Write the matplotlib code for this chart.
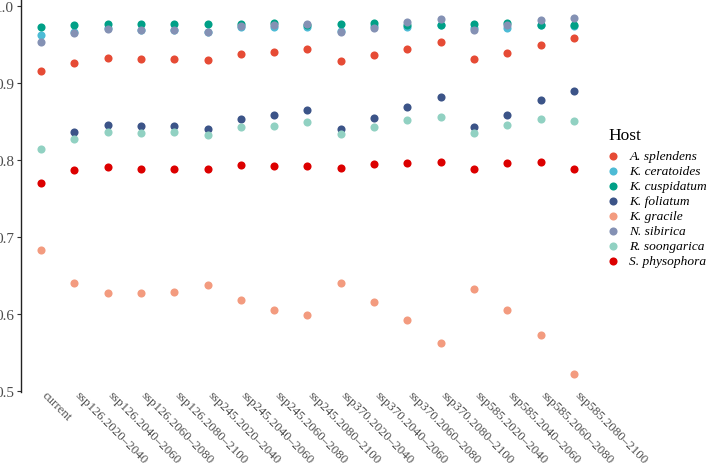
import matplotlib
matplotlib.use("Agg")
import matplotlib.pyplot as plt
import matplotlib.transforms as mtransforms
import numpy as np

categories = ["current",
              "ssp126.2020\u20132040", "ssp126.2040\u20132060", "ssp126.2060\u20132080", "ssp126.2080\u20132100",
              "ssp245.2020\u20132040", "ssp245.2040\u20132060", "ssp245.2060\u20132080", "ssp245.2080\u20132100",
              "ssp370.2020\u20132040", "ssp370.2040\u20132060", "ssp370.2060\u20132080", "ssp370.2080\u20132100",
              "ssp585.2020\u20132040", "ssp585.2040\u20132060", "ssp585.2060\u20132080", "ssp585.2080\u20132100"]

hosts = ["A. splendens", "K. ceratoides", "K. cuspidatum", "K. foliatum",
         "K. gracile", "N. sibirica", "R. soongarica", "S. physophora"]

a_splendens = [0.916, 0.926, 0.933, 0.931, 0.931, 0.930, 0.938, 0.940, 0.944, 0.929, 0.937, 0.945, 0.953, 0.932, 0.939, 0.950, 0.959]
k_ceratoides = [0.963, 0.966, 0.971, 0.969, 0.969, 0.967, 0.973, 0.973, 0.973, 0.968, 0.974, 0.973, 0.976, 0.972, 0.972, 0.976, 0.974]
k_cuspidatum = [0.973, 0.976, 0.977, 0.977, 0.977, 0.977, 0.977, 0.978, 0.976, 0.977, 0.978, 0.976, 0.975, 0.977, 0.978, 0.976, 0.976]
k_foliatum = [None, 0.837, 0.846, 0.844, 0.845, 0.840, 0.853, 0.859, 0.865, 0.840, 0.855, 0.869, 0.882, 0.843, 0.859, 0.878, 0.890]
k_gracile = [0.684, 0.640, 0.627, 0.627, 0.629, 0.638, 0.619, 0.606, 0.599, 0.640, 0.616, 0.592, 0.563, 0.633, 0.605, 0.573, 0.522]
n_sibirica = [0.953, 0.965, 0.970, 0.969, 0.969, 0.966, 0.974, 0.976, 0.977, 0.967, 0.972, 0.979, 0.983, 0.969, 0.976, 0.982, 0.985]
r_soongarica = [0.815, 0.828, 0.837, 0.835, 0.836, 0.833, 0.843, 0.845, 0.849, 0.834, 0.843, 0.852, 0.856, 0.835, 0.846, 0.854, 0.851]
s_physophora = [0.770, 0.787, 0.791, 0.788, 0.789, 0.789, 0.794, 0.793, 0.792, 0.790, 0.795, 0.796, 0.797, 0.789, 0.796, 0.798, 0.789]

series = [a_splendens, k_ceratoides, k_cuspidatum, k_foliatum,
          k_gracile, n_sibirica, r_soongarica, s_physophora]
colors = ["#E64B35", "#4DBBD5", "#00A087", "#3C5488",
          "#F39B7F", "#8491B4", "#91D1C2", "#DC0000"]

plt.rcParams['font.family'] = ['Liberation Serif', 'DejaVu Serif']

W, H = 708, 464
fig = plt.figure(figsize=(W / 100, H / 100), dpi=100)
ax_left, ax_right, ax_top, ax_bot = 21, 594, 1, 393
ax = fig.add_axes([ax_left / W, 1 - ax_bot / H, (ax_right - ax_left) / W, (ax_bot - ax_top) / H])

x = np.arange(len(categories))
for name, vals, c in zip(hosts, series, colors):
    xs = [xi for xi, v in zip(x, vals) if v is not None]
    ys = [v for v in vals if v is not None]
    ax.scatter(xs, ys, s=34, color=c, label=name, linewidths=0, zorder=3)

ax.set_xlim(-0.6, len(categories) - 1 + 0.6)
ax.set_ylim(0.499, 1.008)
ax.set_yticks([0.5, 0.6, 0.7, 0.8, 0.9, 1.0])
ax.set_yticklabels(["0.5", "0.6", "0.7", "0.8", "0.9", "1.0"])
ax.set_xticks(x)
ax.set_xticklabels(categories, rotation=-45, ha='left', va='top', rotation_mode='anchor')
ax.tick_params(axis='x', length=0, pad=0, labelsize=9.3, labelcolor='#4d4d4d')
ax.tick_params(axis='y', length=3, width=0.8, pad=2, labelsize=11, labelcolor='#4d4d4d', color='#333333')
offset = mtransforms.ScaledTranslation(0.065, 0.035, fig.dpi_scale_trans)
for lab in ax.get_xticklabels():
    lab.set_transform(lab.get_transform() + offset)
for sp in ['top', 'right', 'bottom']:
    ax.spines[sp].set_visible(False)
ax.spines['left'].set_linewidth(1.0)
ax.spines['left'].set_color('#222222')

fig.text(608 / W, 1 - 136 / H, "Host", fontsize=12.5, ha='left', va='center', color='black')
leg = fig.legend(loc='upper left', bbox_to_anchor=(606 / W, 1 - 151 / H), frameon=False,
                 prop={'style': 'italic', 'size': 9.6},
                 handlelength=1.0, handletextpad=0.75, labelspacing=0.2,
                 markerscale=1.0, borderaxespad=0, borderpad=0)

fig.savefig("out.png", dpi=100)
